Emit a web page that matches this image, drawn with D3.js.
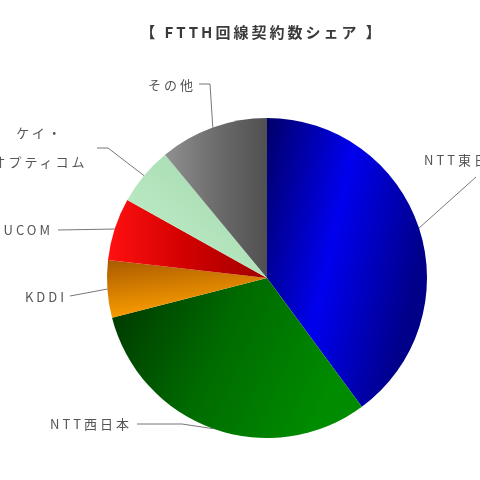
<!DOCTYPE html>
<html>
<head>
<meta charset="utf-8">
<script src="https://cdn.jsdelivr.net/npm/d3@7.9.0/dist/d3.min.js"></script>
<style>
  html, body { margin: 0; padding: 0; background: #fff; overflow: hidden; }
  svg { display: block; filter: blur(0.7px); }
</style>
</head>
<body>
<svg width="480" height="480"></svg>
<script>
// FTTH回線契約数シェア (%)
const labels = ['NTT東日本', 'NTT西日本', 'KDDI', 'UCOM', 'ケイ・オプティコム', 'その他'];
const values = [39.9, 31.1, 5.8, 6.3, 5.9, 11.0];
const title = '【 FTTH回線契約数シェア 】';

// gradient colours per slice: [stop colours], direction
const sliceFills = [
  { stops: ['#000068', '#0000ee', '#000088'], dir: [0, 0, 1, 0.4] },
  { stops: ['#003400', '#006a00', '#008c00'], dir: [0, 0, 1, 0.3] },
  { stops: ['#a85a00', '#ffa000'], dir: [0, 0, 0.3, 1] },
  { stops: ['#ff1010', '#d00000', '#a00000'], dir: [0, 0, 1, 0] },
  { stops: ['#c4f0cc', '#9fd6aa'], dir: [0, 1, 1, 0] },
  { stops: ['#909090', '#6c6c6c', '#505050'], dir: [0, 0, 1, 0] }
];

// label layout: text position, anchor, and the bend points of the leader line
const labelLayout = [
  { x: 424, y: 165, anchor: 'start', lines: ['NTT東日本'], bend: [[476, 177]] },
  { x: 132, y: 429, anchor: 'end', lines: ['NTT西日本'], bend: [[137, 424], [182, 424]] },
  { x: 67, y: 302, anchor: 'end', lines: ['KDDI'], bend: [[70, 296]] },
  { x: 53, y: 235, anchor: 'end', lines: ['UCOM'], bend: [[58, 230]] },
  { x: 40, y: 138, anchor: 'middle', lines: ['ケイ・', 'オプティコム'], bend: [[97, 148], [108, 148]] },
  { x: 196, y: 90, anchor: 'end', lines: ['その他'], bend: [[199, 84], [210, 84]] }
];

const cx = 267, cy = 278, radius = 160;

const svg = d3.select('svg');
const defs = svg.append('defs');

sliceFills.forEach((f, i) => {
  const g = defs.append('linearGradient')
    .attr('id', 'grad' + i)
    .attr('x1', f.dir[0]).attr('y1', f.dir[1])
    .attr('x2', f.dir[2]).attr('y2', f.dir[3]);
  f.stops.forEach((c, j) => {
    g.append('stop')
      .attr('offset', j / (f.stops.length - 1))
      .attr('stop-color', c);
  });
});

svg.append('text')
  .attr('x', 262)
  .attr('y', 38)
  .attr('text-anchor', 'middle')
  .attr('font-family', '"Noto Sans CJK JP", sans-serif')
  .attr('font-size', 15)
  .attr('font-weight', 'bold')
  .attr('letter-spacing', 3)
  .attr('fill', '#3a3a3a')
  .text(title);

const data = labels.map((l, i) => ({ label: l, value: values[i] }));

const pie = d3.pie().sort(null).value(d => d.value);
const arcs = pie(data);
const arcGen = d3.arc().innerRadius(0).outerRadius(radius);

const chart = svg.append('g').attr('transform', `translate(${cx},${cy})`);

chart.selectAll('path')
  .data(arcs)
  .join('path')
  .attr('d', arcGen)
  .attr('fill', (d, i) => `url(#grad${i})`);

// leader lines + labels
const labelG = svg.append('g')
  .attr('font-family', '"Noto Sans CJK JP", sans-serif')
  .attr('font-size', 13)
  .attr('letter-spacing', 3)
  .attr('fill', '#555');

arcs.forEach((a, i) => {
  const lay = labelLayout[i];
  const mid = (a.startAngle + a.endAngle) / 2;
  const edge = [cx + radius * Math.sin(mid), cy - radius * Math.cos(mid)];
  const pts = lay.bend.concat([edge]);
  labelG.append('path')
    .attr('d', d3.line()(pts))
    .attr('fill', 'none')
    .attr('stroke', '#777')
    .attr('stroke-width', 1);

  const t = labelG.append('text')
    .attr('x', lay.x)
    .attr('y', lay.y)
    .attr('text-anchor', lay.anchor);
  lay.lines.forEach((ln, j) => {
    t.append('tspan')
      .attr('x', lay.x)
      .attr('dy', j === 0 ? 0 : 29)
      .text(ln);
  });
});
</script>
</body>
</html>
